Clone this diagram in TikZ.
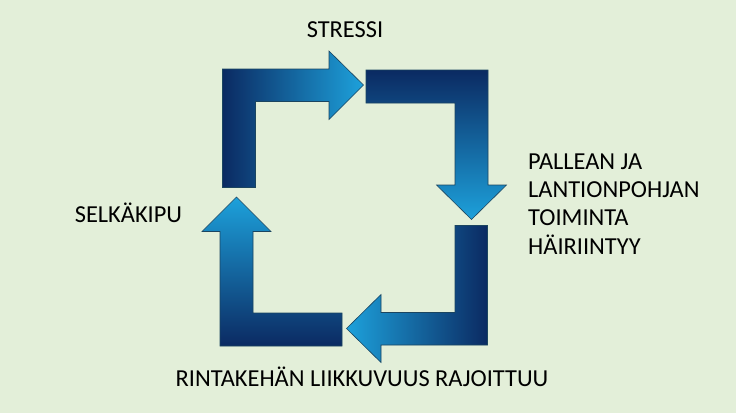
\documentclass[tikz,border=0pt]{standalone}
\usepackage{fontspec}
\setmainfont{Carlito}
\usepackage{tikz}
\usetikzlibrary{positioning, calc}

\definecolor{bgGreen}{HTML}{E3EFD9}
\definecolor{navyDark}{HTML}{0B2A62}
\definecolor{skyLight}{HTML}{1DA1DB}
\definecolor{edgeBlue}{HTML}{1B4560}

\begin{document}
\begin{tikzpicture}[x=1pt, y=-1pt,
    arrowshape/.style={draw=edgeBlue, line width=0.6pt, line join=miter},
    label/.style={font=\fontsize{24.4}{28.3}\selectfont, text=black, inner sep=0pt}]
    \fill[bgGreen] (0,0) rectangle (736,413);
    \useasboundingbox (0,0) rectangle (736,413);
    % top left arrow, pointing right
    \shade[arrowshape, left color=navyDark, right color=skyLight]
        (222.5,187.5) -- (222.5,69) -- (329,69) -- (329,51) -- (363.5,85)
        -- (329,119.5) -- (329,101.5) -- (255.5,101.5) -- (255.5,187.5) -- cycle;
    % top right arrow, pointing down
    \shade[arrowshape, top color=navyDark, bottom color=skyLight]
        (366,70) -- (488,70) -- (488,185) -- (506.5,185) -- (471.5,219.5)
        -- (436.5,185) -- (455,185) -- (455,103) -- (366,103) -- cycle;
    % bottom right arrow, pointing left
    \shade[arrowshape, right color=navyDark, left color=skyLight]
        (487.5,225.5) -- (487.5,345) -- (381,345) -- (381,362.5) -- (346.5,328.5)
        -- (381,294.5) -- (381,312.5) -- (455,312.5) -- (455,225.5) -- cycle;
    % bottom left arrow, pointing up
    \shade[arrowshape, bottom color=navyDark, top color=skyLight]
        (342,346) -- (220,346) -- (220,231.5) -- (202,231.5) -- (236.5,197)
        -- (271,231.5) -- (253,231.5) -- (253,313) -- (342,313) -- cycle;
    \node[label, anchor=base] (stressi) at (345,37) {STRESSI};
    \node[label, anchor=north west, align=left] (pallea) at (528,153.5)
        {PALLEAN JA\\LANTIONPOHJAN\\TOIMINTA\\HÄIRIINTYY};
    \node[label, anchor=base] (rintakehan) at (362,386.5) {RINTAKEHÄN LIIKKUVUUS RAJOITTUU};
    \node[label, anchor=base] (selkakipu) at (128.5,222) {SELKÄKIPU};
\end{tikzpicture}
\end{document}
